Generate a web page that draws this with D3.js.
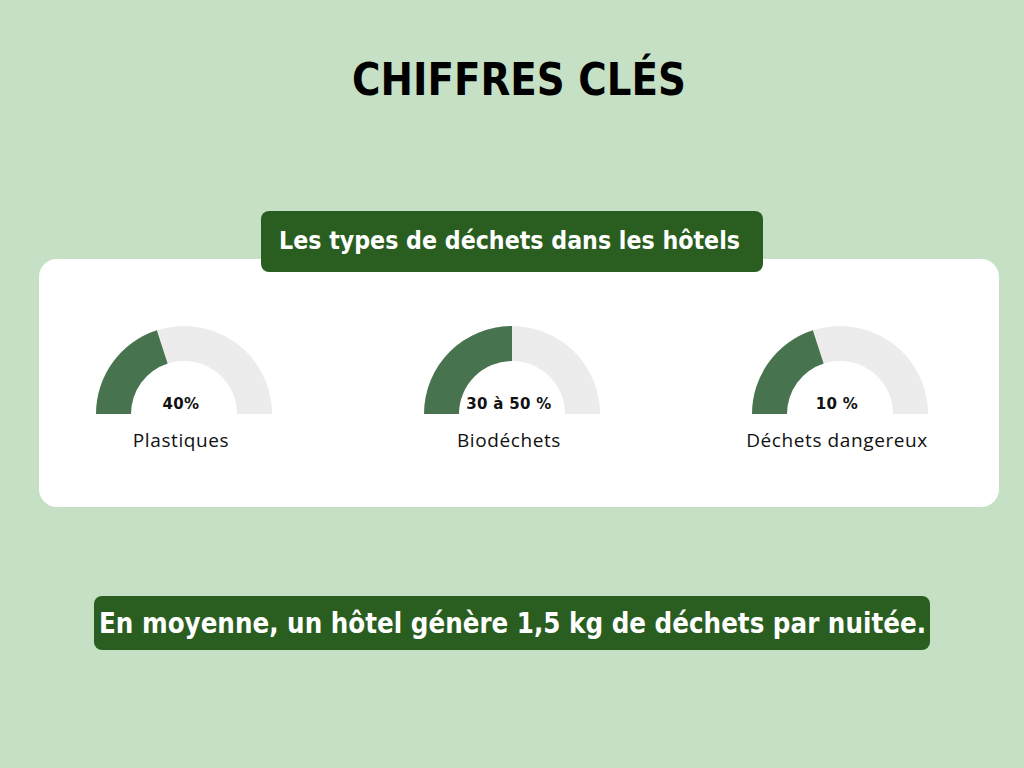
<!DOCTYPE html>
<html>
<head>
<meta charset="utf-8">
<script src="https://cdn.jsdelivr.net/npm/d3@7"></script>
<style>
  html, body { margin: 0; padding: 0; background: #c5e0c4; }
  svg { display: block; }
</style>
</head>
<body>
<svg id="chart" width="1024" height="768"></svg>
<script>
const categories = ["Plastiques", "Biodéchets", "Déchets dangereux"];
const fillValues = [40, 50, 40];
const valueLabels = ["40%", "30 à 50 %", "10 %"];

const title = "CHIFFRES CLÉS";
const subtitle = "Les types de déchets dans les hôtels";
const footnote = "En moyenne, un hôtel génère 1,5 kg de déchets par nuitée.";

const svg = d3.select("#chart");
const width = 1024, height = 768;

svg.append("rect")
  .attr("width", width)
  .attr("height", height)
  .attr("fill", "#c5e0c4");

svg.append("text")
  .attr("x", 352)
  .attr("y", 95)
  .attr("font-family", "DejaVu Sans")
  .attr("font-weight", "bold")
  .attr("font-size", "44px")
  .attr("textLength", 334)
  .attr("lengthAdjust", "spacingAndGlyphs")
  .attr("fill", "#000")
  .text(title);

// white panel
svg.append("rect")
  .attr("x", 39)
  .attr("y", 259)
  .attr("width", 960)
  .attr("height", 248)
  .attr("rx", 18)
  .attr("fill", "#ffffff");

// subtitle box
svg.append("rect")
  .attr("x", 261)
  .attr("y", 211)
  .attr("width", 502)
  .attr("height", 61)
  .attr("rx", 8)
  .attr("fill", "#2a5e20");

svg.append("text")
  .attr("x", 279)
  .attr("y", 249)
  .attr("font-family", "DejaVu Sans")
  .attr("font-weight", "bold")
  .attr("font-size", "25px")
  .attr("textLength", 461)
  .attr("lengthAdjust", "spacingAndGlyphs")
  .attr("fill", "#fff")
  .text(subtitle);

// gauges
const x = d3.scalePoint()
  .domain(categories)
  .range([184, 840]);

const angle = d3.scaleLinear()
  .domain([0, 100])
  .range([-Math.PI / 2, Math.PI / 2]);

const arc = d3.arc()
  .innerRadius(53)
  .outerRadius(88);

const baseY = 414;

const gauges = svg.selectAll(".gauge")
  .data(categories)
  .enter()
  .append("g")
  .attr("class", "gauge")
  .attr("transform", d => `translate(${x(d)},${baseY})`);

gauges.append("path")
  .attr("d", arc({ startAngle: angle(0), endAngle: angle(100) }))
  .attr("fill", "#ececec");

gauges.append("path")
  .attr("d", (d, i) => arc({ startAngle: angle(0), endAngle: angle(fillValues[i]) }))
  .attr("fill", "#48734f");

gauges.append("text")
  .attr("x", -3)
  .attr("y", -5)
  .attr("text-anchor", "middle")
  .attr("font-family", "DejaVu Sans")
  .attr("font-weight", "bold")
  .attr("font-size", "15px")
  .attr("letter-spacing", "0.3px")
  .attr("fill", "#111")
  .text((d, i) => valueLabels[i]);

gauges.append("text")
  .attr("x", -3)
  .attr("y", 33)
  .attr("text-anchor", "middle")
  .attr("font-family", "Open Sans")
  .attr("font-weight", "400")
  .attr("font-size", "19px")
  .attr("letter-spacing", "0.6px")
  .attr("fill", "#111")
  .text(d => d);

// footnote box
svg.append("rect")
  .attr("x", 94)
  .attr("y", 596)
  .attr("width", 836)
  .attr("height", 54)
  .attr("rx", 8)
  .attr("fill", "#2a5e20");

svg.append("text")
  .attr("x", 99)
  .attr("y", 633)
  .attr("font-family", "DejaVu Sans Condensed, DejaVu Sans")
  .attr("font-stretch", "condensed")
  .attr("font-weight", "bold")
  .attr("font-size", "29px")
  .attr("textLength", 827)
  .attr("lengthAdjust", "spacingAndGlyphs")
  .attr("fill", "#fff")
  .text(footnote);
</script>
</body>
</html>
